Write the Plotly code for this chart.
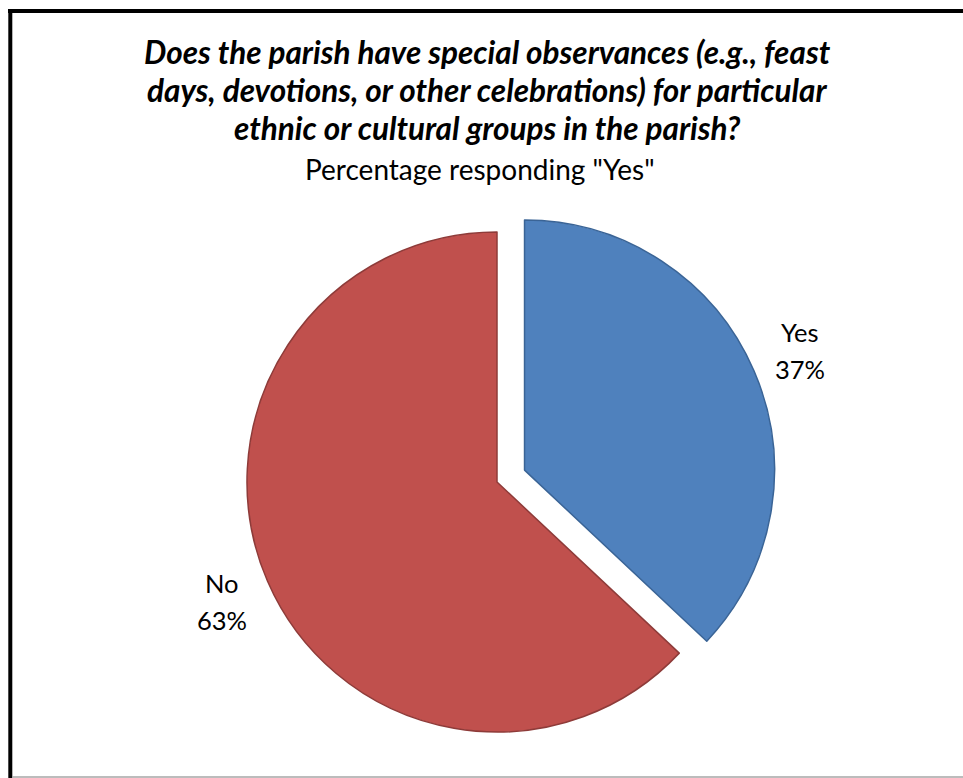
import numpy as np
import plotly.graph_objects as go

labels = ["Yes", "No"]
values = [37, 63]
colors = ["#4F81BD", "#C0504D"]
line_colors = ["#3A6496", "#8E3B39"]
pulls = [0.12, 0]

title_lines = [
    "Does the parish have special observances (e.g., feast",
    "days, devotions, or other celebrations) for particular",
    "ethnic or cultural groups in the parish?",
]
subtitle = 'Percentage responding "Yes"'

W, H = 963, 778
font_family = "Lato"

# pie geometry in pixels (centre, radius) -> domain
cx, cy, R = 497, 482, 250
half = R * (1 + max(pulls))
dom_x = [(cx - half) / W, (cx + half) / W]
dom_y = [1 - (cy + half) / H, 1 - (cy - half) / H]

fig = go.Figure()
fig.add_trace(go.Pie(
    labels=labels,
    values=values,
    sort=False,
    direction="clockwise",
    rotation=0,
    pull=pulls,
    marker=dict(colors=colors, line=dict(color=line_colors, width=1.5)),
    textinfo="none",
    hoverinfo="label+percent",
    showlegend=False,
    domain=dict(x=dom_x, y=dom_y),
))

anns = []
ys = [51.5, 89.5, 128.5]
for t, y in zip(title_lines, ys):
    anns.append(dict(text=f"<b><i>{t}</i></b>", x=487 / W, y=1 - y / H, xref="paper", yref="paper",
                     xanchor="center", yanchor="middle", showarrow=False,
                     font=dict(family=font_family, size=31.5, color="#000000")))
anns.append(dict(text=subtitle, x=480 / W, y=1 - 169 / H, xref="paper", yref="paper",
                 xanchor="center", yanchor="middle", showarrow=False,
                 font=dict(family=font_family, size=28, color="#000000")))

# outside labels placed along each slice's mid-angle
vals = np.array(values, dtype=float)
fracs = vals / vals.sum()
cum = np.cumsum(fracs) - fracs / 2
label_dist = 1.2
for lab, f, mid, p in zip(labels, fracs, cum, pulls):
    ang = 2 * np.pi * mid
    dx, dy = np.sin(ang), -np.cos(ang)
    scx, scy = cx + p * R * dx, cy + p * R * dy
    lx, ly = scx + label_dist * R * dx, scy + label_dist * R * dy
    for txt, off in ((lab, -18.5), (f"{f * 100:.0f}%", 18.5)):
        anns.append(dict(text=txt, x=lx / W, y=1 - (ly + off) / H, xref="paper", yref="paper",
                         xanchor="center", yanchor="middle", showarrow=False,
                         font=dict(family=font_family, size=25.5, color="#000000")))

shapes = [
    dict(type="line", xref="paper", yref="paper", x0=8 / W, x1=1, y0=1 - 11 / H, y1=1 - 11 / H,
         line=dict(color="#000000", width=4)),
    dict(type="line", xref="paper", yref="paper", x0=10.3 / W, x1=10.3 / W, y0=0, y1=1 - 9 / H,
         line=dict(color="#000000", width=4)),
    dict(type="line", xref="paper", yref="paper", x0=12 / W, x1=1, y0=1 / H, y1=1 / H,
         line=dict(color="#A6A6A6", width=1.5)),
]

fig.update_layout(
    width=W, height=H,
    autosize=False,
    margin=dict(l=0, r=0, t=0, b=0),
    paper_bgcolor="#FFFFFF",
    plot_bgcolor="#FFFFFF",
    annotations=anns,
    shapes=shapes,
    font=dict(family=font_family),
)

fig.write_html(
    "out.html",
    config={"responsive": False, "displayModeBar": False},
    post_script="document.body.style.margin='0';",
)
